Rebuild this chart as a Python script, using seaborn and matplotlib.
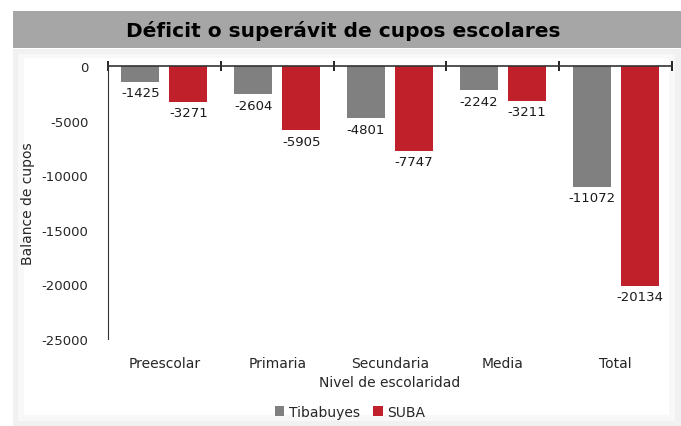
import matplotlib
matplotlib.use('Agg')
from matplotlib import pyplot as plt
from matplotlib.patches import Rectangle
import pandas as pd
import seaborn as sns

niveles = ['Preescolar', 'Primaria', 'Secundaria', 'Media', 'Total']
tibabuyes = [-1425, -2604, -4801, -2242, -11072]
suba = [-3271, -5905, -7747, -3211, -20134]
series = ['Tibabuyes', 'SUBA']
colores = ['#808080', '#c0202a']

df = pd.DataFrame({
    'Nivel': niveles * 2,
    'Balance': tibabuyes + suba,
    'Zona': [series[0]] * len(niveles) + [series[1]] * len(niveles),
})

sns.set_style('white')
plt.rcParams['font.family'] = ['DejaVu Sans']
plt.rcParams['axes.unicode_minus'] = False

fig = plt.figure(figsize=(6.81, 4.27), dpi=100)
W, H = 681, 427

# panel background + title banner (behind the axes)
def fondo(x, y, w, h, color):
    fig.patches.append(Rectangle((x / W, y / H), w / W, h / H, transform=fig.transFigure,
                                 facecolor=color, edgecolor='none', zorder=-10))

fondo(13, 0, W - 13, H - 50, '#f1f1f1')
fondo(18, 5, W - 24, H - 60, '#f8f8f8')
fondo(24, 11, W - 36, H - 70, 'white')
fondo(13, H - 49, W - 13, 37, '#a6a6a6')
fig.text(343 / W, 1 - 31 / H, 'Déficit o superávit de cupos escolares', ha='center', va='center',
         fontsize=14.5, fontweight='bold', color='black')

ax = fig.add_axes([108 / W, 1 - 340 / H, (672 - 108) / W, (340 - 67) / H])
ax.set_facecolor('none')
sns.barplot(data=df, x='Nivel', y='Balance', hue='Zona', palette=colores,
            width=0.85, gap=0.21, ax=ax, saturation=1, linewidth=0)

for c in ax.containers:
    ax.bar_label(c, fmt='%d', padding=3, fontsize=9.5, color='#1a1a1a')

ax.set_ylim(-25000, 0)
ax.set_xlim(-0.5, 4.5)
ax.set_yticks(range(-25000, 1, 5000))
ax.tick_params(axis='y', length=0, labelsize=9.5, pad=14)
ax.set_xticks([i - 0.5 for i in range(6)], minor=True)
ax.tick_params(axis='x', which='major', length=0, labelsize=10, pad=12)
ax.tick_params(axis='x', which='minor', top=True, bottom=False, labeltop=False,
               length=7, width=1.2, direction='inout', color='black')
for s in ['right', 'bottom']:
    ax.spines[s].set_visible(False)
ax.spines['left'].set_color('#333333')
ax.spines['top'].set_color('#333333')
ax.spines['top'].set_linewidth(1.2)
ax.set_ylabel('Balance de cupos', fontsize=10)
ax.set_xlabel('Nivel de escolaridad', fontsize=10, labelpad=4)
ax.yaxis.set_label_coords(-0.13, 0.5)

ax.legend(loc='center', bbox_to_anchor=(350 / W, 14 / H), bbox_transform=fig.transFigure,
          ncol=2, frameon=False, fontsize=10, handlelength=0.7, handleheight=0.7,
          handletextpad=0.3, columnspacing=1.0, title=None)

fig.savefig('out.png', dpi=100)
